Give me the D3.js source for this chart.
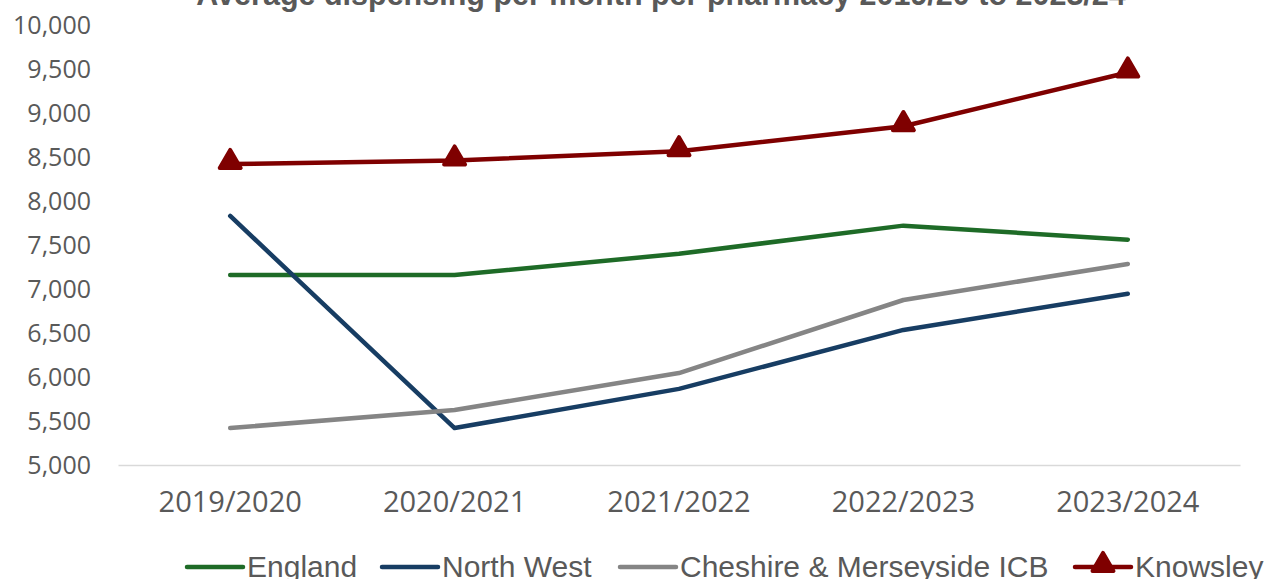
<!DOCTYPE html>
<html><head><meta charset="utf-8">
<script src="https://cdn.jsdelivr.net/npm/d3@7"></script>
<style>body{margin:0;background:#fff;}svg{display:block;}</style>
</head><body>
<svg id="c" width="1269" height="579"></svg>
<script>
const categories = ["2019/2020","2020/2021","2021/2022","2022/2023","2023/2024"];
const england = [7160, 7160, 7400, 7720, 7560];
const northWest = [7830, 5420, 5865, 6535, 6945];
const cheshire = [5420, 5625, 6045, 6875, 7285];
const knowsley = [8420, 8460, 8565, 8850, 9460];
const yTicks = [5000,5500,6000,6500,7000,7500,8000,8500,9000,9500,10000];
const seriesNames = ["England","North West","Cheshire & Merseyside ICB","Knowsley"];
const seriesColors = ["#1e6b27","#173d63","#858585","#7f0000"];
const seriesData = [england, northWest, cheshire, knowsley];

const svg = d3.select("#c");
const x = d3.scaleBand().domain(categories).range([118,1240]);
const y = d3.scaleLinear().domain([5000,10000]).range([465,25]);
const fmt = d3.format(",");

svg.append("text").attr("x",661).attr("y",5).attr("text-anchor","middle")
  .attr("font-family","Liberation Sans, Arial, sans-serif").attr("font-weight","bold")
  .attr("font-size",30.5).attr("fill","#595959")
  .text("Average dispensing per month per pharmacy  2019/20 to 2023/24");

// y labels
const yAx = svg.append("g").attr("transform","translate(91,0)")
  .call(d3.axisLeft(y).tickValues(yTicks).tickFormat(fmt).tickSize(0).tickPadding(0));
yAx.select(".domain").remove();
yAx.selectAll("text").attr("font-family","Open Sans, sans-serif").attr("font-size",25).attr("fill","#595959");

// x axis
const xAx = svg.append("g").attr("transform","translate(0,465)")
  .call(d3.axisBottom(x).tickSize(0).tickPadding(26));
xAx.select(".domain").attr("stroke","#d9d9d9").attr("stroke-width",1.3);
xAx.selectAll("text").attr("font-family","Open Sans, sans-serif").attr("font-size",29).attr("fill","#595959");

const cx = d => x(d) + x.bandwidth()/2;
const line = d3.line().x((d,i)=>cx(categories[i])).y(d=>y(d)).curve(d3.curveLinear);
const tri = d3.symbol().type(d3.symbolTriangle).size(190);

seriesData.forEach((s,k)=>{
  svg.append("path").attr("d",line(s)).attr("fill","none")
    .attr("stroke",seriesColors[k]).attr("stroke-width",4.5).attr("stroke-linecap","round").attr("stroke-linejoin","round");
});
svg.append("g").selectAll("path").data(knowsley).join("path")
  .attr("d",tri).attr("transform",(d,i)=>`translate(${cx(categories[i])},${y(d)-2})`)
  .attr("fill",seriesColors[3]).attr("stroke",seriesColors[3]).attr("stroke-width",4).attr("stroke-linejoin","round");

// legend
const legX = [187, 382, 620, 1075];
const lg = svg.append("g");
seriesNames.forEach((n,k)=>{
  const g = lg.append("g").attr("transform",`translate(${legX[k]},567)`);
  g.append("line").attr("x1",0).attr("x2",56).attr("stroke",seriesColors[k]).attr("stroke-width",4.5).attr("stroke-linecap","round");
  if(k===3){
    g.append("path").attr("d",tri).attr("transform","translate(28,-2)").attr("fill",seriesColors[k]).attr("stroke",seriesColors[k]).attr("stroke-width",4).attr("stroke-linejoin","round");
  }
  g.append("text").attr("x",60).attr("y",10).attr("font-family","Liberation Sans, Arial, sans-serif")
    .attr("font-size",30).attr("fill","#595959").text(n);
});
</script>
</body></html>
